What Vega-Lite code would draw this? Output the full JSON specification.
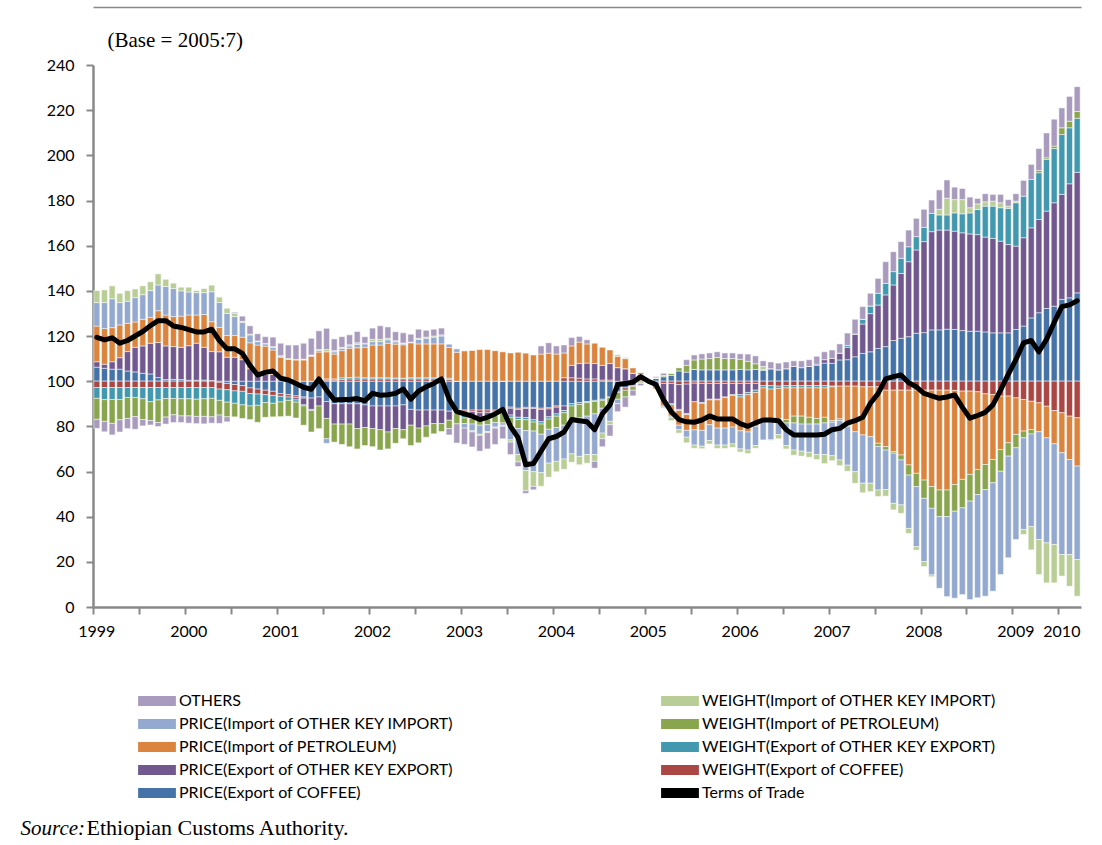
{
"$schema": "https://vega.github.io/schema/vega-lite/v6.json",
"width": 988, "height": 542,
"autosize": {"type": "none"},
"padding": {"left": 93, "top": 65, "right": 21, "bottom": 238},
"background": "white",
"config": {"view": {"stroke": null}, "font": "Lato"},
"data": {"values": [
{"m":"1999-07","s1":6.2,"s2":-2.8,"s3":2.4,"s4":-4.8,"s5":15.8,"s6":-9.3,"s7":10.4,"s8":5.3,"s9":-4.0,"t":119.4},
{"m":"1999-08","s1":5.7,"s2":-2.8,"s3":1.8,"s4":-5.4,"s5":15.8,"s6":-9.6,"s7":11.5,"s8":5.6,"s9":-4.6,"t":118.3},
{"m":"1999-09","s1":5.3,"s2":-2.8,"s3":3.3,"s4":-5.3,"s5":15.1,"s6":-10.6,"s7":12.8,"s8":5.7,"s9":-5.1,"t":119.2},
{"m":"1999-10","s1":5.3,"s2":-2.8,"s3":5.1,"s4":-5.3,"s5":14.5,"s6":-9.0,"s7":9.9,"s8":4.1,"s9":-5.4,"t":116.8},
{"m":"1999-11","s1":4.5,"s2":-2.8,"s3":8.6,"s4":-4.4,"s5":12.5,"s6":-9.3,"s7":9.8,"s8":4.7,"s9":-4.5,"t":118},
{"m":"1999-12","s1":4.1,"s2":-2.8,"s3":10.9,"s4":-4.4,"s5":11.2,"s6":-8.5,"s7":10.8,"s8":3.8,"s9":-5.6,"t":120},
{"m":"2000-01","s1":3.5,"s2":-2.8,"s3":12.1,"s4":-5.0,"s5":11.8,"s6":-9.2,"s7":10.9,"s8":3.9,"s9":-2.8,"t":122},
{"m":"2000-02","s1":3.2,"s2":-2.8,"s3":13.6,"s4":-6.3,"s5":11.5,"s6":-8.3,"s7":11.8,"s8":3.9,"s9":-2.0,"t":124.6},
{"m":"2000-03","s1":1.6,"s2":-2.8,"s3":15.5,"s4":-5.5,"s5":14.1,"s6":-10.0,"s7":11.4,"s8":4.9,"s9":-1.8,"t":126.8},
{"m":"2000-04","s1":0.7,"s2":-2.8,"s3":14.9,"s4":-4.9,"s5":13.7,"s6":-8.2,"s7":12.6,"s8":3.2,"s9":-3.1,"t":126.8},
{"m":"2000-05","s1":0.8,"s2":-2.8,"s3":14.5,"s4":-4.9,"s5":13.3,"s6":-7.2,"s7":12.4,"s8":2.4,"s9":-3.4,"t":124.4},
{"m":"2000-06","s1":0.7,"s2":-2.8,"s3":14.3,"s4":-5.0,"s5":13.8,"s6":-7.6,"s7":11.2,"s8":1.6,"s9":-2.9,"t":123.8},
{"m":"2000-07","s1":0.4,"s2":-2.8,"s3":15.3,"s4":-5.0,"s5":13.6,"s6":-7.6,"s7":10.2,"s8":2.1,"s9":-3.2,"t":122.8},
{"m":"2000-08","s1":0.4,"s2":-2.8,"s3":16.4,"s4":-5.2,"s5":12.5,"s6":-7.6,"s7":9.9,"s8":0.9,"s9":-3.2,"t":121.8},
{"m":"2000-09","s1":0.5,"s2":-2.8,"s3":14.5,"s4":-5.0,"s5":14.5,"s6":-7.8,"s7":9.7,"s8":1.8,"s9":-3.3,"t":121.8},
{"m":"2000-10","s1":0.3,"s2":-2.8,"s3":12.8,"s4":-4.8,"s5":13.2,"s6":-8.2,"s7":13.3,"s8":2.9,"s9":-2.8,"t":123},
{"m":"2000-11","s1":-0.5,"s2":-3.0,"s3":13.0,"s4":-5.0,"s5":10.8,"s6":-6.5,"s7":11.0,"s8":2.4,"s9":-3.7,"t":118},
{"m":"2000-12","s1":-1.0,"s2":-2.8,"s3":10.6,"s4":-5.5,"s5":9.6,"s6":-6.5,"s7":9.8,"s8":2.3,"s9":-2.2,"t":114.3},
{"m":"2001-01","s1":-1.5,"s2":-2.8,"s3":10.6,"s4":-5.5,"s5":9.6,"s6":-6.0,"s7":8.4,"s8":1.4,"s9":0.5,"t":114.3},
{"m":"2001-02","s1":-2.0,"s2":-2.5,"s3":9.5,"s4":-6.0,"s5":10.0,"s6":-6.0,"s7":6.5,"s8":0.5,"s9":2.3,"t":112.3},
{"m":"2001-03","s1":-3.0,"s2":-2.5,"s3":5.5,"s4":-5.5,"s5":11.5,"s6":-6.0,"s7":3.5,"s8":0.3,"s9":3.7,"t":107},
{"m":"2001-04","s1":-3.5,"s2":-2.2,"s3":3.0,"s4":-5.0,"s5":13.0,"s6":-7.5,"s7":1.5,"s8":0.3,"s9":3.2,"t":102.7},
{"m":"2001-05","s1":-4.0,"s2":-2.0,"s3":3.0,"s4":-3.5,"s5":12.5,"s6":-6.5,"s7":1.0,"s8":0.2,"s9":3.0,"t":103.9},
{"m":"2001-06","s1":-4.5,"s2":-1.8,"s3":3.0,"s4":-3.5,"s5":10.8,"s6":-6.0,"s7":1.2,"s8":0.3,"s9":4.2,"t":104.5},
{"m":"2001-07","s1":-5.5,"s2":-1.2,"s3":0.6,"s4":-2.5,"s5":10.0,"s6":-6.5,"s7":0.5,"s8":0.2,"s9":5.5,"t":101.3},
{"m":"2001-08","s1":-6.0,"s2":-1.0,"s3":0.3,"s4":-1.5,"s5":9.4,"s6":-7.0,"s7":0.2,"s8":0.1,"s9":6.0,"t":100.5},
{"m":"2001-09","s1":-6.5,"s2":-0.8,"s3":-1.0,"s4":-1.0,"s5":9.4,"s6":-7.0,"s7":0.2,"s8":0.0,"s9":6.4,"t":99},
{"m":"2001-10","s1":-7.0,"s2":-0.5,"s3":-3.0,"s4":-0.5,"s5":9.4,"s6":-8.5,"s7":0.3,"s8":0.1,"s9":7.0,"t":97.3},
{"m":"2001-11","s1":-7.5,"s2":0.0,"s3":-5.0,"s4":-0.5,"s5":11.0,"s6":-9.5,"s7":0.4,"s8":0.2,"s9":7.4,"t":96.4},
{"m":"2001-12","s1":-7.0,"s2":0.5,"s3":-4.0,"s4":0.8,"s5":11.6,"s6":-10.0,"s7":0.8,"s8":0.3,"s9":8.3,"t":101},
{"m":"2002-01","s1":-9.0,"s2":0.5,"s3":-7.5,"s4":0.5,"s5":12.0,"s6":-9.0,"s7":-2.0,"s8":1.0,"s9":9.4,"t":96},
{"m":"2002-02","s1":-10.0,"s2":0.5,"s3":-9.0,"s4":0.5,"s5":11.0,"s6":-8.0,"s7":1.0,"s8":0.5,"s9":5.2,"t":91.7},
{"m":"2002-03","s1":-10.0,"s2":0.8,"s3":-9.0,"s4":0.7,"s5":12.0,"s6":-9.0,"s7":1.0,"s8":0.5,"s9":4.7,"t":91.9},
{"m":"2002-04","s1":-10.0,"s2":1.0,"s3":-9.0,"s4":0.6,"s5":13.0,"s6":-10.0,"s7":1.0,"s8":0.5,"s9":4.4,"t":91.9},
{"m":"2002-05","s1":-10.0,"s2":1.0,"s3":-11.0,"s4":0.8,"s5":13.0,"s6":-9.0,"s7":1.5,"s8":0.7,"s9":5.0,"t":92.3},
{"m":"2002-06","s1":-10.5,"s2":1.0,"s3":-10.0,"s4":0.5,"s5":13.5,"s6":-8.0,"s7":1.5,"s8":0.3,"s9":2.9,"t":91.3},
{"m":"2002-07","s1":-11.0,"s2":1.0,"s3":-10.0,"s4":0.5,"s5":14.5,"s6":-8.0,"s7":1.5,"s8":1.0,"s9":5.0,"t":94.6},
{"m":"2002-08","s1":-11.0,"s2":1.0,"s3":-10.5,"s4":0.5,"s5":14.5,"s6":-9.0,"s7":1.5,"s8":1.0,"s9":6.0,"t":93.8},
{"m":"2002-09","s1":-11.0,"s2":1.0,"s3":-11.5,"s4":0.5,"s5":15.3,"s6":-7.5,"s7":1.5,"s8":0.7,"s9":5.0,"t":94},
{"m":"2002-10","s1":-11.0,"s2":1.0,"s3":-10.0,"s4":0.4,"s5":15.0,"s6":-6.5,"s7":1.0,"s8":0.5,"s9":4.0,"t":94.6},
{"m":"2002-11","s1":-10.5,"s2":1.0,"s3":-11.0,"s4":0.3,"s5":14.8,"s6":-4.0,"s7":0.5,"s8":0.3,"s9":4.5,"t":96.5},
{"m":"2002-12","s1":-12.5,"s2":1.0,"s3":-7.0,"s4":0.5,"s5":15.5,"s6":-9.0,"s7":0.3,"s8":0.0,"s9":3.5,"t":92},
{"m":"2003-01","s1":-12.8,"s2":1.0,"s3":-8.0,"s4":0.5,"s5":15.0,"s6":-6.5,"s7":2.0,"s8":0.5,"s9":4.0,"t":95.6},
{"m":"2003-02","s1":-12.8,"s2":1.0,"s3":-7.0,"s4":0.5,"s5":15.0,"s6":-5.0,"s7":2.5,"s8":0.5,"s9":3.0,"t":97.5},
{"m":"2003-03","s1":-12.8,"s2":1.0,"s3":-6.0,"s4":0.5,"s5":15.0,"s6":-4.5,"s7":3.0,"s8":0.5,"s9":3.0,"t":99},
{"m":"2003-04","s1":-12.8,"s2":1.0,"s3":-6.0,"s4":0.5,"s5":15.0,"s6":-3.5,"s7":3.5,"s8":0.5,"s9":3.0,"t":101},
{"m":"2003-05","s1":-13.3,"s2":0.7,"s3":-4.0,"s4":0.6,"s5":13.6,"s6":-3.7,"s7":1.6,"s8":0.0,"s9":-2.8,"t":92},
{"m":"2003-06","s1":-12.5,"s2":0.0,"s3":0.0,"s4":-1.9,"s5":12.8,"s6":-4.5,"s7":1.6,"s8":0.0,"s9":-8.5,"t":86.5},
{"m":"2003-07","s1":-12.8,"s2":-0.5,"s3":-1.5,"s4":-1.5,"s5":13.5,"s6":-2.5,"s7":-2.0,"s8":0.0,"s9":-7.2,"t":85.5},
{"m":"2003-08","s1":-12.8,"s2":-0.7,"s3":-2.0,"s4":-1.0,"s5":13.6,"s6":-2.5,"s7":-3.0,"s8":-0.5,"s9":-6.6,"t":84.5},
{"m":"2003-09","s1":-12.8,"s2":-1.2,"s3":-2.0,"s4":-1.5,"s5":14.0,"s6":-2.0,"s7":-4.0,"s8":-0.5,"s9":-7.0,"t":83},
{"m":"2003-10","s1":-12.8,"s2":-1.0,"s3":-2.0,"s4":-1.0,"s5":14.0,"s6":-2.5,"s7":-3.0,"s8":-0.5,"s9":-7.2,"t":84},
{"m":"2003-11","s1":-12.8,"s2":-0.5,"s3":-0.5,"s4":-1.5,"s5":13.5,"s6":-3.0,"s7":-2.0,"s8":-0.5,"s9":-7.2,"t":85.5},
{"m":"2003-12","s1":-12.5,"s2":0.0,"s3":0.0,"s4":-1.0,"s5":13.0,"s6":-5.0,"s7":-1.0,"s8":-0.5,"s9":-5.5,"t":87.5},
{"m":"2004-01","s1":-11.5,"s2":-0.5,"s3":-3.0,"s4":-1.0,"s5":12.5,"s6":-4.0,"s7":-6.0,"s8":-1.0,"s9":-5.5,"t":80},
{"m":"2004-02","s1":-12.0,"s2":-0.5,"s3":-3.5,"s4":-1.0,"s5":12.8,"s6":-4.0,"s7":-11.5,"s8":-3.3,"s9":-2.0,"t":75},
{"m":"2004-03","s1":-11.6,"s2":-0.5,"s3":-4.0,"s4":-1.0,"s5":12.4,"s6":-4.8,"s7":-17.7,"s8":-8.9,"s9":-1.2,"t":63},
{"m":"2004-04","s1":-11.6,"s2":-0.5,"s3":-5.0,"s4":-1.0,"s5":11.6,"s6":-4.0,"s7":-18.0,"s8":-6.5,"s9":-1.5,"t":63.5},
{"m":"2004-05","s1":-12.0,"s2":-0.5,"s3":-5.5,"s4":-1.0,"s5":12.0,"s6":-4.5,"s7":-17.0,"s8":-6.0,"s9":3.6,"t":69},
{"m":"2004-06","s1":-11.8,"s2":-0.5,"s3":-3.5,"s4":-1.0,"s5":12.4,"s6":-4.5,"s7":-15.0,"s8":-6.2,"s9":4.6,"t":74.5},
{"m":"2004-07","s1":-11.0,"s2":-0.5,"s3":-3.0,"s4":-1.0,"s5":12.0,"s6":-5.0,"s7":-15.0,"s8":-4.6,"s9":3.6,"t":75.5},
{"m":"2004-08","s1":-11.0,"s2":1.5,"s3":-2.0,"s4":-1.0,"s5":11.0,"s6":-5.5,"s7":-15.0,"s8":-4.5,"s9":3.5,"t":77.5},
{"m":"2004-09","s1":-10.0,"s2":1.5,"s3":5.5,"s4":-1.0,"s5":8.6,"s6":-6.2,"s7":-15.0,"s8":-3.7,"s9":3.7,"t":83},
{"m":"2004-10","s1":-9.5,"s2":1.3,"s3":6.5,"s4":-0.8,"s5":9.5,"s6":-6.0,"s7":-17.0,"s8":-3.7,"s9":2.5,"t":82.5},
{"m":"2004-11","s1":-9.0,"s2":1.0,"s3":7.0,"s4":-0.5,"s5":8.5,"s6":-6.0,"s7":-17.0,"s8":-3.8,"s9":1.8,"t":82},
{"m":"2004-12","s1":-8.5,"s2":1.0,"s3":6.8,"s4":-0.5,"s5":9.0,"s6":-5.5,"s7":-18.0,"s8":-3.0,"s9":-3.0,"t":78.5},
{"m":"2005-01","s1":-8.0,"s2":0.5,"s3":6.5,"s4":-0.5,"s5":8.0,"s6":-3.5,"s7":-11.0,"s8":-2.5,"s9":-3.5,"t":85.5},
{"m":"2005-02","s1":-7.0,"s2":0.5,"s3":7.3,"s4":-0.3,"s5":6.0,"s6":-3.5,"s7":-7.0,"s8":-1.5,"s9":-5.0,"t":89.5},
{"m":"2005-03","s1":-4.5,"s2":-0.5,"s3":6.0,"s4":0.0,"s5":5.0,"s6":-3.0,"s7":-2.0,"s8":0.7,"s9":-3.5,"t":98.5},
{"m":"2005-04","s1":-3.0,"s2":-1.0,"s3":5.5,"s4":0.0,"s5":4.5,"s6":-3.0,"s7":0.0,"s8":0.5,"s9":-4.5,"t":99},
{"m":"2005-05","s1":-2.0,"s2":-0.5,"s3":3.5,"s4":0.0,"s5":2.5,"s6":-1.5,"s7":0.0,"s8":0.0,"s9":-2.5,"t":99.5},
{"m":"2005-06","s1":-0.5,"s2":0.5,"s3":2.5,"s4":0.0,"s5":1.0,"s6":-0.5,"s7":0.0,"s8":0.0,"s9":-1.0,"t":102},
{"m":"2005-07","s1":0,"s2":0,"s3":0,"s4":0,"s5":0,"s6":0,"s7":0,"s8":0,"s9":0,"t":100},
{"m":"2005-08","s1":1.2,"s2":-0.5,"s3":-2.5,"s4":0.0,"s5":-0.5,"s6":0.3,"s7":0.0,"s8":0.0,"s9":0.5,"t":98.5},
{"m":"2005-09","s1":2.0,"s2":-1.0,"s3":-7.0,"s4":0.0,"s5":-3.0,"s6":0.5,"s7":-0.5,"s8":-0.5,"s9":1.0,"t":91.7},
{"m":"2005-10","s1":2.5,"s2":-1.0,"s3":-9.0,"s4":-0.5,"s5":-5.0,"s6":1.0,"s7":-0.5,"s8":-1.5,"s9":0.0,"t":86.5},
{"m":"2005-11","s1":4.5,"s2":-1.5,"s3":-11.0,"s4":-0.5,"s5":-6.5,"s6":1.5,"s7":-2.0,"s8":-1.5,"s9":0.0,"t":83},
{"m":"2005-12","s1":4.0,"s2":-1.3,"s3":-13.0,"s4":-0.5,"s5":-7.0,"s6":3.0,"s7":-3.0,"s8":-2.5,"s9":2.5,"t":82},
{"m":"2006-01","s1":5.2,"s2":-0.9,"s3":-8.2,"s4":0.0,"s5":-12.5,"s6":4.2,"s7":-6.7,"s8":-1.4,"s9":2.2,"t":81.8},
{"m":"2006-02","s1":5.0,"s2":-1.0,"s3":-8.5,"s4":-0.3,"s5":-12.0,"s6":4.8,"s7":-7.0,"s8":-1.1,"s9":2.3,"t":82.8},
{"m":"2006-03","s1":5.0,"s2":-1.0,"s3":-7.0,"s4":-0.3,"s5":-11.0,"s6":5.0,"s7":-7.0,"s8":-1.5,"s9":2.5,"t":84.6},
{"m":"2006-04","s1":5.0,"s2":-1.0,"s3":-7.0,"s4":-0.3,"s5":-12.5,"s6":5.5,"s7":-7.5,"s8":-1.5,"s9":2.5,"t":83.3},
{"m":"2006-05","s1":5.0,"s2":-1.0,"s3":-6.0,"s4":-0.3,"s5":-13.5,"s6":5.0,"s7":-7.5,"s8":-1.5,"s9":2.5,"t":83.3},
{"m":"2006-06","s1":5.0,"s2":-1.0,"s3":-5.0,"s4":-0.3,"s5":-14.0,"s6":5.0,"s7":-7.5,"s8":-1.5,"s9":2.5,"t":83.3},
{"m":"2006-07","s1":5.2,"s2":-1.0,"s3":-5.0,"s4":-1.0,"s5":-15.0,"s6":4.5,"s7":-8.0,"s8":-1.4,"s9":2.4,"t":81.2},
{"m":"2006-08","s1":5.0,"s2":-1.0,"s3":-4.0,"s4":-1.0,"s5":-16.5,"s6":3.8,"s7":-8.0,"s8":-1.5,"s9":3.2,"t":80},
{"m":"2006-09","s1":5.2,"s2":-1.0,"s3":-3.0,"s4":-1.0,"s5":-15.0,"s6":2.5,"s7":-8.5,"s8":-1.2,"s9":3.5,"t":81.5},
{"m":"2006-10","s1":5.0,"s2":-2.0,"s3":0.0,"s4":-1.0,"s5":-15.0,"s6":0.0,"s7":-8.0,"s8":1.5,"s9":2.5,"t":82.8},
{"m":"2006-11","s1":5.5,"s2":-2.0,"s3":0.0,"s4":-1.5,"s5":-14.0,"s6":0.0,"s7":-8.5,"s8":-0.2,"s9":3.0,"t":82.8},
{"m":"2006-12","s1":5.0,"s2":-2.2,"s3":0.0,"s4":-1.0,"s5":-13.5,"s6":-1.0,"s7":-6.0,"s8":-1.8,"s9":3.0,"t":82.5},
{"m":"2007-01","s1":5.5,"s2":-2.0,"s3":0.0,"s4":-1.0,"s5":-14.0,"s6":-1.5,"s7":-10.0,"s8":-1.5,"s9":3.0,"t":78.5},
{"m":"2007-02","s1":6.5,"s2":-2.0,"s3":0.0,"s4":-1.0,"s5":-12.5,"s6":-3.0,"s7":-12.0,"s8":-2.3,"s9":2.5,"t":76.2},
{"m":"2007-03","s1":6.0,"s2":-2.0,"s3":0.0,"s4":-1.0,"s5":-12.5,"s6":-3.5,"s7":-12.0,"s8":-2.2,"s9":3.0,"t":76.2},
{"m":"2007-04","s1":6.5,"s2":-2.0,"s3":0.0,"s4":-1.0,"s5":-13.0,"s6":-3.0,"s7":-12.5,"s8":-2.2,"s9":3.0,"t":76.2},
{"m":"2007-05","s1":7.0,"s2":-2.0,"s3":0.5,"s4":-1.0,"s5":-13.5,"s6":-2.5,"s7":-13.5,"s8":-2.2,"s9":3.5,"t":76.2},
{"m":"2007-06","s1":8.0,"s2":-2.0,"s3":1.5,"s4":-1.0,"s5":-13.0,"s6":-2.5,"s7":-14.0,"s8":-4.0,"s9":3.5,"t":76.5},
{"m":"2007-07","s1":7.9,"s2":-2.2,"s3":2.2,"s4":-0.3,"s5":-15.0,"s6":-0.7,"s7":-14.8,"s8":-2.2,"s9":3.7,"t":78.5},
{"m":"2007-08","s1":9.4,"s2":-2.2,"s3":3.0,"s4":0.0,"s5":-14.5,"s6":-0.7,"s7":-17.5,"s8":-2.5,"s9":4.1,"t":79.1},
{"m":"2007-09","s1":9.5,"s2":-2.2,"s3":5.5,"s4":0.8,"s5":-17.5,"s6":-0.5,"s7":-17.0,"s8":-2.7,"s9":5.5,"t":81.4},
{"m":"2007-10","s1":10.8,"s2":-2.2,"s3":10.1,"s4":0.0,"s5":-20.2,"s6":0.0,"s7":-17.7,"s8":-5.1,"s9":6.5,"t":82.5},
{"m":"2007-11","s1":12.3,"s2":-2.5,"s3":13.0,"s4":2.1,"s5":-21.3,"s6":0.0,"s7":-21.4,"s8":-4.2,"s9":5.6,"t":84},
{"m":"2007-12","s1":13.0,"s2":-2.5,"s3":16.9,"s4":3.4,"s5":-22.1,"s6":0.0,"s7":-20.6,"s8":-3.7,"s9":5.6,"t":90.2},
{"m":"2008-01","s1":14.5,"s2":-2.5,"s3":19.2,"s4":5.2,"s5":-25.0,"s6":-1.4,"s7":-19.3,"s8":-2.9,"s9":6.6,"t":94.5},
{"m":"2008-02","s1":15.3,"s2":-4.0,"s3":22.9,"s4":5.1,"s5":-25.0,"s6":-1.5,"s7":-17.5,"s8":-2.9,"s9":9.6,"t":101},
{"m":"2008-03","s1":18.0,"s2":-4.0,"s3":24.6,"s4":5.9,"s5":-27.2,"s6":-0.7,"s7":-22.2,"s8":-2.9,"s9":8.8,"t":102},
{"m":"2008-04","s1":19.0,"s2":-4.0,"s3":28.7,"s4":6.7,"s5":-28.7,"s6":-2.2,"s7":-19.9,"s8":-3.7,"s9":7.4,"t":102.7},
{"m":"2008-05","s1":19.7,"s2":-4.0,"s3":33.2,"s4":6.6,"s5":-33.1,"s6":-4.5,"s7":-23.6,"s8":-2.2,"s9":7.4,"t":99.3},
{"m":"2008-06","s1":21.2,"s2":-4.0,"s3":36.9,"s4":5.9,"s5":-36.8,"s6":-5.9,"s7":-26.6,"s8":-1.5,"s9":8.1,"t":97.5},
{"m":"2008-07","s1":21.5,"s2":-4.0,"s3":40.3,"s4":6.3,"s5":-39.8,"s6":-8.1,"s7":-28.0,"s8":-2.2,"s9":8.0,"t":94.6},
{"m":"2008-08","s1":22.7,"s2":-4.0,"s3":43.5,"s4":8.1,"s5":-42.7,"s6":-9.6,"s7":-29.5,"s8":-0.8,"s9":5.9,"t":93.5},
{"m":"2008-09","s1":22.7,"s2":-4.0,"s3":44.2,"s4":6.7,"s5":-44.2,"s6":-11.8,"s7":-31.7,"s8":2.5,"s9":8.6,"t":92.4},
{"m":"2008-10","s1":23.0,"s2":-4.0,"s3":43.9,"s4":6.7,"s5":-44.2,"s6":-11.8,"s7":-35.4,"s8":7.4,"s9":8.1,"t":93},
{"m":"2008-11","s1":22.9,"s2":-4.1,"s3":43.5,"s4":8.1,"s5":-41.7,"s6":-11.8,"s7":-38.5,"s8":5.9,"s9":5.5,"t":93.9},
{"m":"2008-12","s1":22.4,"s2":-4.4,"s3":43.3,"s4":8.4,"s5":-39.1,"s6":-12.6,"s7":-38.4,"s8":6.3,"s9":4.9,"t":88.5},
{"m":"2009-01","s1":22.1,"s2":-4.4,"s3":43.1,"s4":9.3,"s5":-36.9,"s6":-11.8,"s7":-43.6,"s8":2.3,"s9":4.7,"t":83.6},
{"m":"2009-02","s1":22.1,"s2":-4.7,"s3":42.8,"s4":11.1,"s5":-34.4,"s6":-11.1,"s7":-45.7,"s8":2.5,"s9":2.4,"t":84.8},
{"m":"2009-03","s1":21.8,"s2":-5.6,"s3":42.0,"s4":13.7,"s5":-31.3,"s6":-11.1,"s7":-47.2,"s8":1.9,"s9":3.6,"t":86.2},
{"m":"2009-04","s1":21.4,"s2":-5.9,"s3":41.8,"s4":14.3,"s5":-28.8,"s6":-10.3,"s7":-48.0,"s8":2.2,"s9":3.0,"t":89.5},
{"m":"2009-05","s1":21.4,"s2":-6.6,"s3":40.6,"s4":14.8,"s5":-23.7,"s6":-9.6,"s7":-45.7,"s8":2.2,"s9":3.7,"t":96},
{"m":"2009-06","s1":21.4,"s2":-6.6,"s3":39.1,"s4":16.0,"s5":-20.7,"s6":-5.9,"s7":-45.0,"s8":1.0,"s9":2.9,"t":103},
{"m":"2009-07","s1":22.9,"s2":-7.4,"s3":36.9,"s4":19.2,"s5":-16.2,"s6":-5.9,"s7":-40.6,"s8":0.7,"s9":3.3,"t":109.5},
{"m":"2009-08","s1":24.4,"s2":-8.1,"s3":39.1,"s4":18.4,"s5":-14.0,"s6":-3.0,"s7":-40.6,"s8":-2.2,"s9":7.0,"t":117},
{"m":"2009-09","s1":28.0,"s2":-8.9,"s3":39.9,"s4":21.4,"s5":-12.5,"s6":-2.0,"s7":-41.0,"s8":-10.3,"s9":6.7,"t":118},
{"m":"2009-10","s1":30.3,"s2":-9.6,"s3":41.3,"s4":20.7,"s5":-12.8,"s6":1.0,"s7":-47.7,"s8":-15.5,"s9":9.7,"t":113},
{"m":"2009-11","s1":32.2,"s2":-11.1,"s3":43.1,"s4":22.9,"s5":-14.0,"s6":0.7,"s7":-46.5,"s8":-17.7,"s9":11.0,"t":118.5},
{"m":"2009-12","s1":33.2,"s2":-13.0,"s3":45.8,"s4":24.0,"s5":-14.7,"s6":1.1,"s7":-44.6,"s8":-17.0,"s9":11.9,"t":126},
{"m":"2010-01","s1":36.2,"s2":-14.0,"s3":46.5,"s4":26.5,"s5":-17.7,"s6":3.0,"s7":-45.1,"s8":-9.5,"s9":8.8,"t":133},
{"m":"2010-02","s1":36.9,"s2":-15.5,"s3":50.5,"s4":24.8,"s5":-19.2,"s6":2.9,"s7":-42.1,"s8":-14.0,"s9":11.0,"t":133.8},
{"m":"2010-03","s1":39.1,"s2":-16.2,"s3":53.4,"s4":23.9,"s5":-21.4,"s6":3.0,"s7":-41.4,"s8":-16.2,"s9":11.0,"t":135.6}
]},
"layer": [
{
"transform": [{"fold": ["s1","s2","s3","s4","s5","s6","s7","s8","s9"], "as": ["s","v"]}],
"mark": {"type": "bar", "stroke": "white", "strokeWidth": 0.5},
"encoding": {
"x": {"field": "m", "type": "ordinal", "scale": {"paddingInner": 0.22, "paddingOuter": 0.11},
"axis": {"values": ["1999-07","2000-01","2000-07","2001-01","2001-07","2002-01","2002-07","2003-01","2003-07","2004-01","2004-07","2005-01","2005-07","2006-01","2006-07","2007-01","2007-07","2008-01","2008-07","2009-01","2009-07","2010-01"],
"bandPosition": 0, "labelAngle": 0, "labelOverlap": false,
"labelExpr": "(slice(datum.value,5,7) == '07' || datum.value == '2010-01') ? slice(datum.value,0,4) : ''",
"labelFont": "Lato", "labelFontSize": 16, "labelColor": "black", "labelPadding": 9,
"tickSize": 7, "tickWidth": 2, "tickColor": "#898989", "domainColor": "#898989", "domainWidth": 2.5, "grid": false,
"title": "Source:", "titleFont": "Liberation Serif", "titleFontStyle": "italic", "titleFontWeight": "normal", "titleFontSize": 21, "titleColor": "black",
"titleX": -73, "titleY": 227, "titleAlign": "left", "titleBaseline": "alphabetic", "titleAnchor": null}},
"y": {"field": "v", "type": "quantitative", "stack": "zero", "scale": {"domain": [-100, 140], "nice": false, "zero": false},
"axis": {"values": [-100,-80,-60,-40,-20,0,20,40,60,80,100,120,140], "labelExpr": "datum.value + 100", "grid": false,
"labelFont": "Lato", "labelFontSize": 16, "labelColor": "black", "labelPadding": 12,
"tickSize": 7, "tickWidth": 2, "tickColor": "#898989", "domainColor": "#898989", "domainWidth": 2.5,
"title": "(Base = 2005:7)", "titleFont": "Liberation Serif", "titleFontSize": 21, "titleFontWeight": "normal", "titleColor": "black",
"titleAngle": 0, "titleX": 14, "titleY": -19, "titleAlign": "left", "titleBaseline": "alphabetic", "titleAnchor": null}},
"color": {"field": "s", "type": "nominal",
"scale": {"domain": ["s9","s8","s7","s6","s5","s4","s3","s2","s1","s0"], "range": ["#A99BBD","#B9CD96","#93A9CF","#89A54E","#DB843D","#4198AF","#71588F","#AA4643","#4572A7","#000000"]},
"legend": {"orient": "none", "legendX": 56, "legendY": 628, "direction": "horizontal", "columns": 2, "columnPadding": 207, "rowPadding": 7, "title": null,
"symbolType": "M-2.7,-0.72H2.7V0.72H-2.7Z", "symbolSize": 196, "symbolStrokeWidth": 0, "labelOffset": 14,
"labelFont": "Lato", "labelFontSize": 16, "labelColor": "black", "labelLimit": 400,
"labelExpr": "datum.label=='s9'?'OTHERS':datum.label=='s8'?'WEIGHT(Import of OTHER KEY IMPORT)':datum.label=='s7'?'PRICE(Import of OTHER KEY IMPORT)':datum.label=='s6'?'WEIGHT(Import of PETROLEUM)':datum.label=='s5'?'PRICE(Import of PETROLEUM)':datum.label=='s4'?'WEIGHT(Export of OTHER KEY EXPORT)':datum.label=='s3'?'PRICE(Export of OTHER KEY EXPORT)':datum.label=='s2'?'WEIGHT(Export of COFFEE)':datum.label=='s1'?'PRICE(Export of COFFEE)':'Terms of Trade'"}},
"order": {"field": "s", "type": "ordinal", "sort": "ascending"}
}
},
{
"mark": {"type": "line", "strokeWidth": 5, "strokeJoin": "round", "strokeCap": "round"},
"encoding": {
"x": {"field": "m", "type": "ordinal",
"axis": {"orient": "top", "offset": 58, "domain": true, "domainColor": "#898989", "domainWidth": 1.5, "ticks": false, "labels": false, "grid": false,
"title": "Ethiopian Customs Authority.", "titleFont": "Liberation Serif", "titleFontSize": 22, "titleFontWeight": "normal", "titleColor": "black",
"titleX": -7, "titleY": 827, "titleAlign": "left", "titleBaseline": "alphabetic", "titleAngle": 0, "titleAnchor": null}},
"y": {"field": "t", "type": "quantitative", "scale": {"domain": [0, 240], "nice": false}, "axis": null},
"color": {"datum": "s0", "type": "nominal"}
}
}
],
"resolve": {"scale": {"y": "independent"}, "axis": {"x": "independent"}}
}
